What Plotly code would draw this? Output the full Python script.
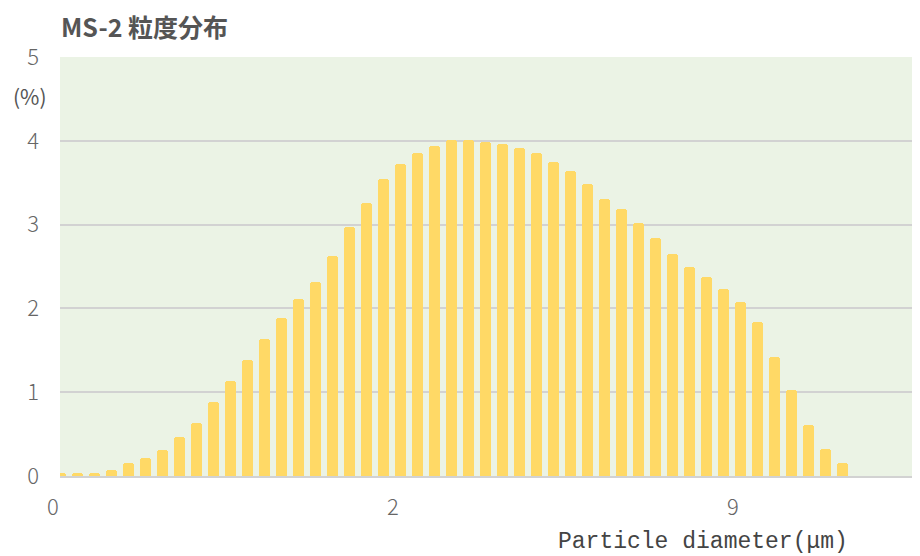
import plotly.graph_objects as go

# Bar heights (%), left to right
values = [0.04, 0.04, 0.04, 0.075, 0.15, 0.22, 0.31, 0.46, 0.63, 0.88,
          1.13, 1.38, 1.64, 1.88, 2.11, 2.32, 2.62, 2.97, 3.26, 3.54,
          3.72, 3.86, 3.94, 4.01, 4.01, 3.99, 3.96, 3.92, 3.86, 3.75,
          3.64, 3.48, 3.30, 3.19, 3.02, 2.84, 2.65, 2.50, 2.37, 2.23,
          2.08, 1.84, 1.42, 1.03, 0.61, 0.32, 0.16]
bins = list(range(len(values)))

x_tick_labels = ["0", "2", "9"]
x_tick_positions = [-0.44, 19.56, 39.56]
y_tick_values = [0, 1, 2, 3, 4, 5]

title_text = "MS-2 粒度分布"
x_title = "Particle diameter(μm)"
y_unit = "(%)"

BAR = "#FFD966"
BG = "#EBF3E5"
GRID = "#D2D2D2"
TXT = "#555555"
FONT = "Noto Sans CJK JP"

X_RANGE = [-0.03, 50.56]

fig = go.Figure()
fig.add_trace(go.Bar(
    x=bins, y=values, width=0.68,
    marker=dict(color=BAR, line=dict(width=0), cornerradius=3),
    hoverinfo="skip",
))

# page body adds an 8px offset; compensate with smaller figure/margins
fig.update_layout(
    width=912, height=548,
    margin=dict(l=52, r=0, t=49, b=80),
    paper_bgcolor="white",
    plot_bgcolor=BG,
    showlegend=False,
    bargap=0,
    font=dict(family=FONT, color=TXT),
)

fig.update_xaxes(
    range=X_RANGE,
    showticklabels=False, ticks="",
    showgrid=False, zeroline=False,
    showline=True, linecolor=GRID, linewidth=2,
)
fig.update_yaxes(
    range=[0, 5],
    tickvals=y_tick_values,
    ticktext=[str(v) for v in y_tick_values],
    tickfont=dict(family=FONT, size=22, color="#666666", weight=300),
    ticklabelstandoff=20,
    showgrid=True, gridcolor=GRID, gridwidth=2,
    zeroline=False, showline=False, ticks="",
)


def to_paper(v):
    return (v - X_RANGE[0]) / (X_RANGE[1] - X_RANGE[0])


annotations = []
annotations.append(dict(
    text=title_text, xref="paper", yref="paper",
    x=0, y=1, xanchor="left", yanchor="middle", yshift=31, xshift=-1,
    showarrow=False,
    font=dict(family=FONT, size=25, color=TXT, weight="bold"),
))
annotations.append(dict(
    text=y_unit, xref="paper", yref="y",
    x=0, y=4.53, xanchor="center", yanchor="middle", xshift=-30,
    showarrow=False,
    font=dict(family=FONT, size=21, color="#555555"),
))
for pos, lab in zip(x_tick_positions, x_tick_labels):
    annotations.append(dict(
        text=lab, xref="paper", yref="paper",
        x=to_paper(pos), y=0, xanchor="center", yanchor="middle", yshift=-29,
        showarrow=False,
        font=dict(family=FONT, size=22, color="#666666", weight=300),
    ))
annotations.append(dict(
    text=x_title, xref="paper", yref="paper",
    x=(703 - 60) / 860, y=0, xanchor="center", yanchor="middle", yshift=-66,
    showarrow=False,
    font=dict(family="Liberation Mono", size=23, color="#444444"),
))
fig.update_layout(annotations=annotations)

fig.write_html("out.html")
